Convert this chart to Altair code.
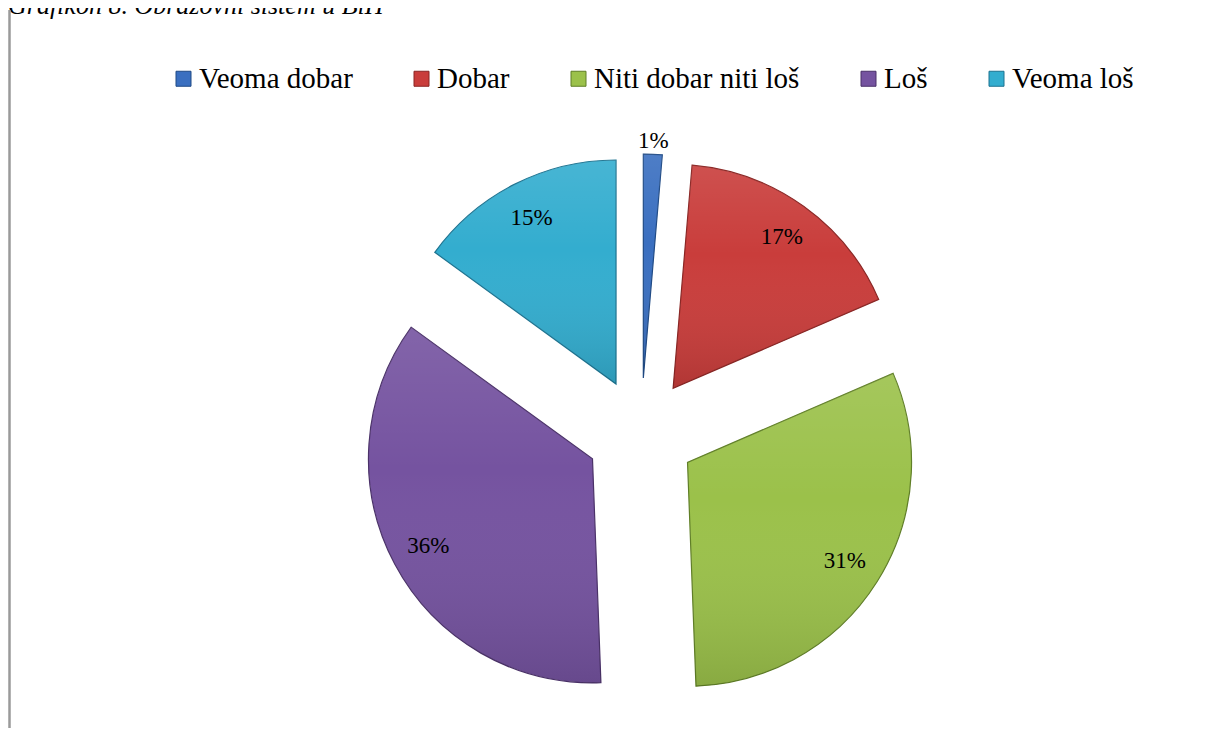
import altair as alt
import pandas as pd

categories = ["Veoma dobar", "Dobar", "Niti dobar niti loš", "Loš", "Veoma loš"]
values = [1.35, 17.15, 30.9, 35.6, 15.0]
fill_colors = ["#3a6fc0", "#c93d3b", "#9bc14a", "#7553a0", "#33adcf"]
edge_colors = ["#1f4a85", "#8a2523", "#5f7e26", "#4a3168", "#1d7390"]
title_text = "Grafikon 8. Obrazovni sistem u BiH"

W, H = 1200, 720
CX, CY = 633, 425
R = 224
EXPLODE = 55
SERIF = "Liberation Serif, Times New Roman, serif"

df = pd.DataFrame({
    "order": list(range(len(categories))),
    "category": categories,
    "value": values,
})

base = alt.Chart(df).transform_joinaggregate(
    total="sum(value)"
).transform_window(
    cum="sum(value)", sort=[alt.SortField("order")], frame=[None, 0]
).transform_calculate(
    t0="2*PI*(datum.cum - datum.value)/datum.total",
    t1="2*PI*datum.cum/datum.total",
    label="format(datum.value/datum.total, '.0%')",
).transform_calculate(
    mid="(datum.t0 + datum.t1)/2",
).transform_calculate(
    px=f"{CX} + {EXPLODE}*sin(datum.mid)",
    py=f"{CY} - {EXPLODE}*cos(datum.mid)",
    lr=f"datum.value/datum.total < 0.05 ? {R + 13} : 186",
).transform_calculate(
    lx="datum.px + datum.lr*sin(datum.mid)",
    ly="datum.py - datum.lr*cos(datum.mid)",
)

enc_pos = dict(
    x=alt.X("px:Q", scale=None, axis=None),
    y=alt.Y("py:Q", scale=None, axis=None),
    theta=alt.Theta("t0:Q", scale=None, stack=False),
    theta2="t1:Q",
)

slices = base.mark_arc(radius=R, strokeWidth=1.2).encode(
    color=alt.Color(
        "category:N",
        scale=alt.Scale(domain=categories, range=fill_colors),
        sort=categories,
        legend=alt.Legend(
            title=None,
            orient="none",
            legendX=161,
            legendY=56,
            direction="horizontal",
            symbolType="square",
            symbolSize=225,
            symbolStrokeWidth=1,
            symbolOpacity=1,
            labelFont=SERIF,
            labelFontSize=29,
            labelColor="#000000",
            labelLimit=500,
            labelOffset=1,
            columnPadding=54,
            padding=0,
        ),
    ),
    stroke=alt.Stroke(
        "category:N",
        scale=alt.Scale(domain=categories, range=edge_colors),
        legend=None,
    ),
    **enc_pos,
)

shade = base.mark_arc(
    radius=R,
    fill=alt.Gradient(
        gradient="linear",
        stops=[
            alt.GradientStop(color="rgba(255,255,255,0.10)", offset=0),
            alt.GradientStop(color="rgba(255,255,255,0.0)", offset=0.4),
            alt.GradientStop(color="rgba(0,0,0,0.12)", offset=1),
        ],
        x1=0, x2=0, y1=0, y2=1,
    ),
).encode(**enc_pos)

text = base.mark_text(
    font=SERIF, fontSize=23, color="#000000",
    align="center", baseline="middle",
).encode(
    x=alt.X("lx:Q", scale=None, axis=None),
    y=alt.Y("ly:Q", scale=None, axis=None),
    text="label:N",
)

title = alt.Chart(pd.DataFrame({"t": [title_text]})).mark_text(
    font=SERIF, fontSize=26, fontStyle="italic",
    color="#000000", align="left", baseline="alphabetic",
).encode(x=alt.value(0), y=alt.value(6), text="t:N")

vline = alt.Chart(pd.DataFrame({"a": [0]})).mark_rule(
    color="#9a9a9a", strokeWidth=2.5
).encode(x=alt.value(1.5), y=alt.value(2), y2=alt.value(H))

chart = alt.layer(slices, shade, text, title, vline).properties(
    width=W, height=H, padding=0, autosize="none"
).configure_view(stroke=None)

chart.save("out.html", embed_options={"renderer": "svg", "actions": False})
